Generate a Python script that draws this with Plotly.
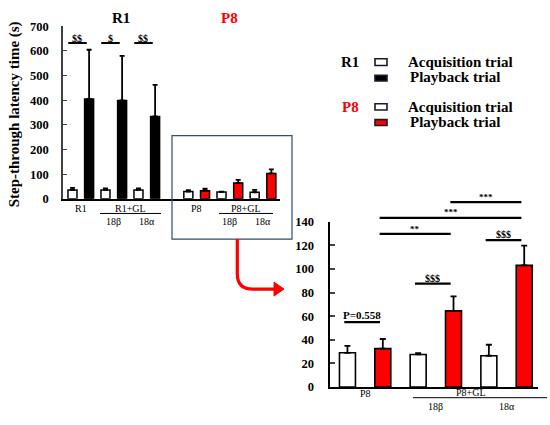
import plotly.graph_objects as go

# ---------------- data ----------------
r1_groups = ["R1", "R1+GL 18β", "R1+GL 18α"]
r1_acq = [36, 36, 36]
r1_acq_err = [8, 6, 6]
r1_play = [405, 399, 334]
r1_play_err = [200, 181, 128]

p8_groups = ["P8", "P8+GL 18β", "P8+GL 18α"]
p8_acq = [29, 27.6, 26.5]
p8_acq_err = [5.8, 1.2, 9.3]
p8_play = [32.5, 64.5, 103]
p8_play_err = [8.2, 12.3, 16.7]

top_sig_labels = ["$$", "$", "$$"]
bottom_sig = [
    ("P=0.558", 0, "acq", 0, "play", 54.9),
    ("$$$", 1, "acq", 1, "play", 87.6),
    ("$$$", 2, "acq", 2, "play", 124.4),
    ("**", 0, "play", 1, "play", 129.6),
    ("***", 0, "play", 2, "play", 143.3),
    ("***", 1, "play", 2, "play", 156.6),
]

W, H = 550, 425
def px(x):
    return x / W
def py(y):
    return 1 - y / H

FONT = "Liberation Serif"
RED = "#FF0000"

fig = go.Figure()

TOP_W, TOP_HALF = 0.273, 0.252
BOT_W, BOT_HALF = 0.226, 0.25


def add_pair(xa, ya, cats, acq, acq_err, play, play_err, play_color, w, half, cap, lw):
    fig.add_bar(
        x=cats, y=acq, xaxis=xa, yaxis=ya, width=w, offset=-half - w / 2,
        marker=dict(color="white", line=dict(color="black", width=lw)),
        error_y=dict(type="data", array=acq_err, arrayminus=[0] * len(acq),
                     symmetric=False, color="black", thickness=1.8, width=cap),
        showlegend=False, hoverinfo="skip")
    fig.add_bar(
        x=cats, y=play, xaxis=xa, yaxis=ya, width=w, offset=half - w / 2,
        marker=dict(color=play_color, line=dict(color="black", width=lw)),
        error_y=dict(type="data", array=play_err, arrayminus=[0] * len(play),
                     symmetric=False, color="black", thickness=1.8, width=cap),
        showlegend=False, hoverinfo="skip")


add_pair("x", "y", r1_groups, r1_acq, r1_acq_err, r1_play, r1_play_err, "black",
         TOP_W, TOP_HALF, 2.5, 1.5)
add_pair("x2", "y", p8_groups, p8_acq, p8_acq_err, p8_play, p8_play_err, RED,
         TOP_W, TOP_HALF, 2.5, 1.5)
add_pair("x3", "y3", p8_groups, p8_acq, p8_acq_err, p8_play, p8_play_err, RED,
         BOT_W, BOT_HALF, 3, 1.6)

tick_font = dict(family=FONT, size=12.5, color="black", weight="bold")

common_x = dict(type="category", showline=True, linecolor="black", linewidth=1.5,
                ticks="", showticklabels=False, showgrid=False, zeroline=False,
                fixedrange=True)

fig.update_layout(
    width=W, height=H,
    margin=dict(l=0, r=0, t=0, b=0),
    paper_bgcolor="white", plot_bgcolor="white",
    barmode="overlay",
    font=dict(family=FONT, color="black"),
    xaxis=dict(common_x, domain=[px(63), px(172)], range=[-0.539, 2.764], anchor="y"),
    xaxis2=dict(common_x, domain=[px(172), px(280)], range=[-0.745, 2.513], anchor="y"),
    xaxis3=dict(common_x, domain=[px(329.5), px(538)], range=[-0.504, 2.445], anchor="y3",
                linewidth=2),
    yaxis=dict(domain=[py(198.3), py(20)], range=[0, 700], dtick=100, anchor="x",
               showline=True, linecolor="#404040", linewidth=1.5, ticks="inside",
               ticklen=4, tickcolor="#404040", tickwidth=1.2, showgrid=False,
               zeroline=False, tickfont=tick_font, ticklabelstandoff=10,
               fixedrange=True),
    yaxis3=dict(domain=[py(393), py(222)], range=[0, 140], dtick=20, anchor="x3",
                showline=True, linecolor="black", linewidth=2, ticks="inside",
                ticklen=5, tickwidth=1.5, showgrid=False, zeroline=False,
                tickfont=tick_font, ticklabelstandoff=11, fixedrange=True),
)

ann = []
shapes = []

def text(x, y, s, size, xref="paper", yref="paper", color="black", bold=False,
         xanchor="center", yanchor="middle", angle=0):
    ann.append(dict(x=x, y=y, xref=xref, yref=yref, text=s, showarrow=False,
                    xanchor=xanchor, yanchor=yanchor, textangle=angle,
                    font=dict(family=FONT, size=size, color=color,
                              weight="bold" if bold else "normal")))

def line(x0, y0, x1, y1, xref="paper", yref="paper", color="black", width=1.2):
    shapes.append(dict(type="line", x0=x0, y0=y0, x1=x1, y1=y1, xref=xref, yref=yref,
                       line=dict(color=color, width=width)))

# titles
text(px(121), py(11), "R1", 15, bold=True)
text(px(230), py(11), "P8", 15, bold=True, color=RED)
text(px(14), py(111), "Step-through latency time (s)", 15, bold=True, angle=-90)

# top significance marks
for i, lab in enumerate(top_sig_labels):
    line(i - 0.38, 632, i + 0.18, 632, xref="x", yref="y", width=2)
    text(i - 0.1, 652, lab, 10, xref="x", yref="y", bold=True)

# top category labels
text(0, py(208), "R1", 10, xref="x")
text(1.5, py(208), "R1+GL", 10, xref="x")
line(px(100), py(213.5), px(161), py(213.5), width=1)
text(1, py(222), "18β", 10, xref="x")
text(2, py(222), "18α", 10, xref="x")
text(0, py(208), "P8", 10, xref="x2")
text(1.5, py(208), "P8+GL", 10, xref="x2")
line(px(219), py(213.5), px(273), py(213.5), width=1)
text(1, py(222), "18β", 10, xref="x2")
text(2, py(222), "18α", 10, xref="x2")

# bottom category labels
text(0, py(400), "P8", 10, xref="x3")
text(1.5, py(399), "P8+GL", 10, xref="x3")
line(px(413), py(404), px(547), py(404), width=1)
text(1, py(413), "18β", 10, xref="x3")
text(2, py(413), "18α", 10, xref="x3")

# bottom significance brackets
def bar_center(g, trial):
    return g + (-BOT_HALF if trial == "acq" else BOT_HALF)

for lab, ga, ta, gb, tb, h in bottom_sig:
    xa = bar_center(ga, ta) - 0.045
    xb = bar_center(gb, tb) - 0.04
    line(xa, h / 140, xb, h / 140, xref="x3", yref="y3 domain", width=2.2)
    size = 11 if lab.startswith("P") else (10 if "$" in lab else 9)
    text((xa + xb) / 2, (h + (6.5 if lab.startswith("P") else 4.5)) / 140, lab, size,
         xref="x3", yref="y3 domain", bold=True)

# blue inset box
shapes.append(dict(type="rect", xref="paper", yref="paper",
                   x0=px(172), x1=px(292), y0=py(240), y1=py(133),
                   line=dict(color="#2F4D70", width=1.2)))

# red arrow
path = (f"M {px(237.3)},{py(240)} L {px(237.3)},{py(276)} "
        f"Q {px(237.3)},{py(291.7)} {px(253)},{py(291.7)} L {px(276)},{py(291.7)}")
shapes.append(dict(type="path", xref="paper", yref="paper", path=path,
                   line=dict(color=RED, width=3.2)))
head = (f"M {px(274)},{py(284.5)} L {px(284)},{py(291.7)} L {px(274)},{py(298.9)} Z")
shapes.append(dict(type="path", xref="paper", yref="paper", path=head,
                   fillcolor=RED, line=dict(color=RED, width=1)))

# legend
def box(y0, y1, fill):
    shapes.append(dict(type="rect", xref="paper", yref="paper",
                       x0=px(375), x1=px(387), y0=py(y1), y1=py(y0),
                       fillcolor=fill, line=dict(color="#1a1a2a", width=1.6)))

text(px(361), py(57), "R1", 15, bold=True, xanchor="right")
box(53.5, 60.5, "white")
text(px(406), py(57), "Acquisition trial", 15, bold=True, xanchor="left")
box(70.5, 76.5, "black")
text(px(408), py(72.5), "Playback trial", 15, bold=True, xanchor="left")
text(px(361), py(103), "P8", 15, bold=True, xanchor="right", color=RED)
box(100, 106.5, "white")
text(px(406), py(103), "Acquisition trial", 15, bold=True, xanchor="left")
box(116.5, 122.5, RED)
text(px(408), py(118.5), "Playback trial", 15, bold=True, xanchor="left")

fig.update_layout(annotations=ann, shapes=shapes)
fig.write_html("out.html", config={"displayModeBar": False},
               post_script="document.body.style.margin='0px';")
